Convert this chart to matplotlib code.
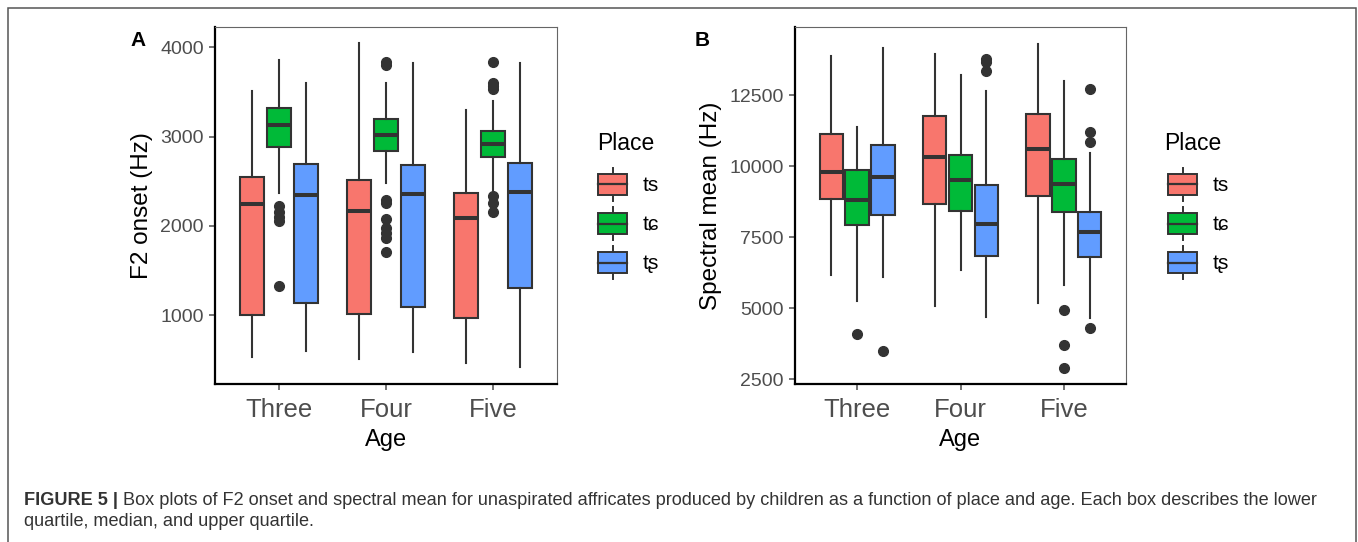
import matplotlib
matplotlib.use("Agg")
import matplotlib.pyplot as plt
import matplotlib.patches as mpatches
from matplotlib.lines import Line2D
from matplotlib.legend_handler import HandlerBase

plt.rcParams['font.family'] = ['Liberation Sans', 'DejaVu Sans']

ages = ["Three", "Four", "Five"]
places = ["ts", "tɕ", "tʂ"]
place_colors = ["#F8766D", "#00BA38", "#619CFF"]

# panel A, F2 onset (Hz) -- rows are ages, columns are places
f2_whislo = [[530, 2373, 601], [511, 2485, 593], [463, 2366, 418]]
f2_q1 = [[1004, 2888, 1142], [1011, 2843, 1097], [974, 2776, 1302]]
f2_med = [[2250, 3127, 2343], [2172, 3015, 2358], [2086, 2914, 2384]]
f2_q3 = [[2549, 3321, 2698], [2511, 3194, 2679], [2366, 3060, 2701]]
f2_whishi = [[3507, 3858, 3604], [4045, 3604, 3821], [3299, 3403, 3828]]
f2_fliers = [
    [[], [2220, 2160, 2100, 2060, 1332], []],
    [[], [3840, 3805, 2291, 2254, 2078, 1974, 1918, 1862, 1713], []],
    [[], [3840, 3597, 3567, 3530, 2336, 2261, 2160], []],
]

# panel B, spectral mean (Hz)
sm_whislo = [[6172, 5270, 6113], [5082, 6347, 4683], [5199, 5820, 4672]]
sm_q1 = [[8844, 7930, 8281], [8680, 8410, 6851], [8961, 8398, 6793]]
sm_med = [[9805, 8808, 9629], [10332, 9535, 7953], [10625, 9371, 7672]]
sm_q3 = [[11129, 9863, 10766], [11785, 10391, 9336], [11855, 10273, 8398]]
sm_whishi = [[13883, 11387, 14152], [13965, 13227, 12641], [14316, 12992, 10484]]
sm_fliers = [
    [[], [4097], [3500]],
    [[], [], [13789, 13672, 13356]],
    [[], [4941, 3711, 2890], [12711, 11211, 10859, 4297]],
]

EDGE = '#333333'
W, H = 1358.0, 542.0


class BoxKey(HandlerBase):
    # legend key drawn like a little boxplot, as ggplot does
    def create_artists(self, legend, orig_handle, xdescent, ydescent,
                       width, height, fontsize, trans):
        x0 = -xdescent
        y0 = -ydescent
        bh = height * 0.63
        by = y0 + (height - bh) / 2
        xm = x0 + width / 2
        w1 = Line2D([xm, xm], [y0, by], color=EDGE, lw=1.4, transform=trans)
        w2 = Line2D([xm, xm], [by + bh, y0 + height], color=EDGE, lw=1.4, transform=trans)
        box = mpatches.Rectangle((x0, by), width, bh, facecolor=orig_handle.get_facecolor(),
                                 edgecolor=EDGE, lw=1.4, transform=trans)
        med = Line2D([x0, x0 + width], [by + bh / 2] * 2, color=EDGE, lw=1.6, transform=trans)
        return [w1, w2, box, med]


def draw_panel(ax, whislo, q1, med, q3, whishi, fliers, leg_x, title_x):
    offsets = [-0.25, 0.0, 0.25]
    for i in range(len(ages)):
        for j in range(len(places)):
            st = dict(med=med[i][j], q1=q1[i][j], q3=q3[i][j],
                      whislo=whislo[i][j], whishi=whishi[i][j], fliers=fliers[i][j])
            ax.bxp([st], positions=[i + 1 + offsets[j]], widths=0.225,
                   patch_artist=True, showcaps=False, manage_ticks=False,
                   boxprops=dict(facecolor=place_colors[j], edgecolor=EDGE, linewidth=1.5),
                   medianprops=dict(color=EDGE, linewidth=2.9, solid_capstyle='butt'),
                   whiskerprops=dict(color=EDGE, linewidth=1.5),
                   flierprops=dict(marker='o', markerfacecolor=EDGE, markeredgecolor=EDGE,
                                   markersize=7))
    ax.set_xlim(0.4, 3.6)
    ax.set_xticks([1, 2, 3])
    ax.set_xticklabels(ages)
    ax.tick_params(axis='x', labelsize=18.5, colors='#4D4D4D', length=4.5, width=1.1, pad=5.5)
    ax.tick_params(axis='y', labelsize=14, colors='#4D4D4D', length=4, width=1.1, pad=4)
    for s in ['left', 'bottom']:
        ax.spines[s].set_linewidth(1.6)
        ax.spines[s].set_color('black')
    for s in ['top', 'right']:
        ax.spines[s].set_linewidth(0.8)
        ax.spines[s].set_color('#666666')
    ax.set_xlabel('Age', fontsize=17, color='black')
    ax.xaxis.set_label_coords(0.5, -0.126)

    handles = [mpatches.Patch(facecolor=c) for c in place_colors]
    leg = ax.legend(handles, places, loc='upper left',
                    bbox_to_anchor=(leg_x, 0.6064), frameon=False, borderpad=0,
                    borderaxespad=0, fontsize=15,
                    handlelength=1.4, handleheight=2.085, labelspacing=0.287,
                    handletextpad=0.75,
                    handler_map={mpatches.Patch: BoxKey()})
    fig.text(title_x / W, 1 - 150 / H, 'Place', fontsize=16.5, ha='left', va='baseline')
    return leg


fig = plt.figure(figsize=(13.58, 5.42), dpi=100)

axA = fig.add_axes([215 / W, 1 - 384 / H, 342 / W, 357 / H])
draw_panel(axA, f2_whislo, f2_q1, f2_med, f2_q3, f2_whishi, f2_fliers, 1.120, 597)
axA.set_ylim(231, 4227)
axA.set_yticks([1000, 2000, 3000, 4000])
axA.set_ylabel('F2 onset (Hz)', fontsize=17.5)
axA.yaxis.set_label_coords(-0.18, 0.5)

axB = fig.add_axes([795 / W, 1 - 384 / H, 331 / W, 357 / H])
draw_panel(axB, sm_whislo, sm_q1, sm_med, sm_q3, sm_whishi, sm_fliers, 1.127, 1164)
axB.set_ylim(2340, 14902)
axB.set_yticks([2500, 5000, 7500, 10000, 12500])
axB.set_ylabel('Spectral mean (Hz)', fontsize=17.5)
axB.yaxis.set_label_coords(-0.22, 0.5)

fig.text(130 / W, 1 - 46 / H, 'A', fontsize=15, fontweight='bold', ha='left', va='baseline')
fig.text(695 / W, 1 - 46 / H, 'B', fontsize=15, fontweight='bold', ha='left', va='baseline')

# outer frame of the figure box (open at the bottom)
frame = mpatches.Rectangle((8 / W, -0.05), 1348 / W, 1 - 8 / H + 0.05,
                           transform=fig.transFigure, fill=False,
                           edgecolor='#555555', lw=1.1, clip_on=False)
fig.add_artist(frame)

# caption
cap_col = '#333333'
cap_fs = 13.1
t1 = fig.text(24 / W, 1 - 505 / H, 'FIGURE 5 |', fontsize=cap_fs, fontweight='bold',
              color=cap_col, ha='left', va='baseline')
fig.canvas.draw()
bb = t1.get_window_extent()
fig.text((bb.x1 + 5) / W, 1 - 505 / H,
         'Box plots of F2 onset and spectral mean for unaspirated affricates produced by '
         'children as a function of place and age. Each box describes the lower',
         fontsize=cap_fs, color=cap_col, ha='left', va='baseline')
fig.text(24 / W, 1 - 526 / H, 'quartile, median, and upper quartile.',
         fontsize=cap_fs, color=cap_col, ha='left', va='baseline')

fig.savefig('out.png', dpi=100)
